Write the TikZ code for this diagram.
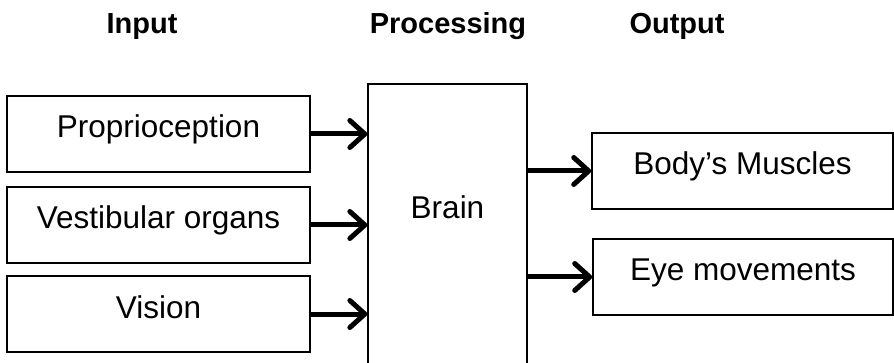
\documentclass[tikz,border=0pt]{standalone}
\usepackage{fontspec}
\setmainfont{Liberation Sans}
\usetikzlibrary{arrows.meta}
\tikzset{
  stagebox/.style={draw, line width=1.6pt, rectangle, inner sep=0pt,
    minimum width=303pt, minimum height=76pt,
    text height=42pt, text depth=34pt, font=\fontsize{31.5}{31.5}\selectfont},
  header/.style={anchor=base, font=\fontsize{29}{29}\selectfont\bfseries},
  flow/.style={line width=5pt,
    -{Straight Barb[length=15pt,width=27pt,round]}},
}
\begin{document}
\begin{tikzpicture}[x=1pt,y=-1pt]
  \useasboundingbox (0,0) rectangle (894,363);
  \clip (0,0) rectangle (894,363);

  % column headings
  \node[header] (hin)  at (142,34) {Input};
  \node[header] (hpr)  at (448,34) {Processing};
  \node[header] (hout) at (677,34) {Output};

  % inputs
  \node[stagebox] (prop) at (158.5,134) {Proprioception};
  \node[stagebox] (vest) at (158.5,225) {Vestibular organs};
  \node[stagebox] (vis)  at (158.5,314) {Vision};

  % processing
  \node[draw, line width=1.3pt, rectangle, inner sep=0pt,
        minimum width=159pt, minimum height=296pt,
        text height=135pt, text depth=161pt,
        font=\fontsize{31.5}{31.5}\selectfont] (brain) at (447.5,232) {Brain};

  % outputs
  \node[stagebox, minimum width=301pt] (body) at (742.5,171) {Body’s Muscles};
  \node[stagebox, minimum width=300pt] (eye)  at (743,277) {Eye movements};

  % connectors
  \draw[flow] (prop.east) -- (prop.east -| brain.west);
  \draw[flow] (vest.east) -- (vest.east -| brain.west);
  \draw[flow] (vis.east)  -- (vis.east -| brain.west);
  \draw[flow] (body.west -| brain.east) -- (body.west);
  \draw[flow] (eye.west -| brain.east)  -- (eye.west);
\end{tikzpicture}
\end{document}
